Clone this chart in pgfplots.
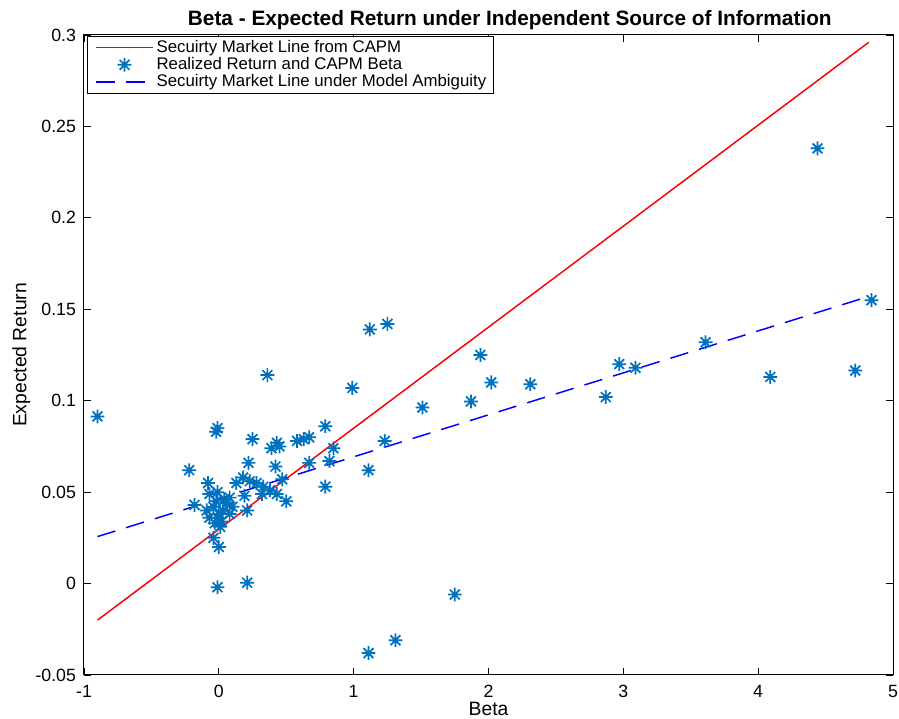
\documentclass[border=0pt]{standalone}
\usepackage{pgfplots}
\pgfplotsset{compat=1.18}
\usepackage{fontspec}
\setmainfont{Liberation Sans}
\definecolor{mblue}{RGB}{0,114,189}
\definecolor{mred}{RGB}{255,0,0}
\pgfdeclareplotmark{mstar}{%
  \pgfpathmoveto{\pgfqpoint{0pt}{\pgfplotmarksize}}\pgfpathlineto{\pgfqpoint{0pt}{-\pgfplotmarksize}}%
  \pgfpathmoveto{\pgfqpoint{\pgfplotmarksize}{0pt}}\pgfpathlineto{\pgfqpoint{-\pgfplotmarksize}{0pt}}%
  \pgfpathmoveto{\pgfqpoint{.707\pgfplotmarksize}{.707\pgfplotmarksize}}\pgfpathlineto{\pgfqpoint{-.707\pgfplotmarksize}{-.707\pgfplotmarksize}}%
  \pgfpathmoveto{\pgfqpoint{-.707\pgfplotmarksize}{.707\pgfplotmarksize}}\pgfpathlineto{\pgfqpoint{.707\pgfplotmarksize}{-.707\pgfplotmarksize}}%
  \pgfusepathqstroke}
\pgfplotsset{
  linelegend/.style={legend image code/.code={\path (0pt,0pt); \draw[#1] (3.5pt,0pt) -- (46.5pt,0pt);}},
  marklegend/.style={legend image code/.code={\path (0pt,0pt); \draw[#1] plot coordinates {(25pt,0pt)};}},
}
\pgfplotstableread{
x y
-0.90 0.0914
4.44 0.238
4.84 0.155
4.72 0.1165
4.09 0.113
3.61 0.132
3.09 0.118
2.97 0.120
2.87 0.102
2.31 0.109
2.02 0.110
1.94 0.125
1.87 0.0996
1.51 0.0963
1.75 -0.006
1.31 -0.031
1.11 -0.038
1.25 0.142
1.12 0.139
0.99 0.107
1.23 0.078
1.11 0.062
0.85 0.074
0.82 0.067
0.79 0.053
0.79 0.086
0.67 0.080
0.63 0.079
0.58 0.078
0.36 0.114
0.67 0.066
0.25 0.079
-0.01 0.085
-0.02 0.083
-0.22 0.062
-0.01 -0.002
0.21 0.0005
0.00 0.020
-0.04 0.025
0.39 0.074
0.43 0.077
0.45 0.075
0.22 0.066
0.42 0.064
-0.08 0.055
0.13 0.055
0.18 0.058
0.23 0.056
0.28 0.055
0.33 0.053
0.43 0.049
0.50 0.045
0.47 0.057
-0.18 0.043
0.21 0.040
-0.07 0.049
-0.01 0.050
0.08 0.047
0.19 0.048
0.32 0.049
0.38 0.051
-0.09 0.040
-0.04 0.042
-0.01 0.036
0.02 0.034
0.03 0.040
0.06 0.044
-0.07 0.036
0.01 0.031
0.10 0.042
0.08 0.038
-0.02 0.045
0.00 0.038
0.04 0.046
-0.03 0.033
}\pts
\begin{document}
\begin{tikzpicture}
\begin{axis}[
  scale only axis,
  width=606.75pt, height=480pt,
  xmin=-1, xmax=5, ymin=-0.05, ymax=0.3,
  xtick={-1,0,1,2,3,4,5},
  xticklabels={-1,0,1,2,3,4,5},
  ytick={-0.05,0,0.05,0.1,0.15,0.2,0.25,0.3},
  yticklabels={-0.05,0,0.05,0.1,0.15,0.2,0.25,0.3},
  tick align=inside,
  major tick length=5pt,
  tick style={black, line width=0.6pt},
  axis line style={black, line width=0.75pt},
  ticklabel style={font=\fontsize{13.3}{15}\selectfont},
  xticklabel style={yshift=-4pt},
  yticklabel style={xshift=-2.5pt},
  xlabel={Beta},
  ylabel={Expected Return},
  label style={font=\fontsize{14.5}{16}\selectfont},
  xlabel style={yshift=3.5pt},
  ylabel style={yshift=-3pt},
  title={\textbf{Beta - Expected Return under Independent Source of Information}},
  title style={font=\fontsize{15.6}{17}\selectfont, xshift=16pt, yshift=-5.5pt},
  legend image code/.code={\path (0pt,0pt); \draw[mred, line width=1.1pt] (3.5pt,0pt) -- (46.5pt,0pt);},
  legend cell align=left,
  legend style={at={(0,1)}, anchor=north west, xshift=2pt, yshift=-1pt,
    font=\fontsize{12.6}{12.6}\selectfont,
    inner xsep=3pt, inner ysep=1pt, row sep=-1.8pt, /tikz/every even column/.append style={column sep=5.5pt}},
]
\addlegendimage{mred}
\addlegendentry{Secuirty Market Line from CAPM}
\addlegendimage{only marks, mark=mstar, mblue, marklegend={draw=mblue, line width=1.3pt, mark=mstar, mark size=5.2pt}}
\addlegendentry{Realized Return and CAPM Beta}
\addlegendimage{blue, mark=none, linelegend={draw=blue, line width=1.1pt, dash pattern=on 14pt off 8.5pt}}
\addlegendentry{Secuirty Market Line under Model Ambiguity}
\addplot[forget plot, mred, line width=1.1pt, mark=none]
  coordinates {(-0.9,-0.0200) (4.82,0.2960)};
\addplot[forget plot, only marks, mark=mstar, mark size=5.2pt, mblue, line width=1.3pt]
  table[x=x,y=y] {\pts};
\addplot[forget plot, blue, line width=1.1pt, mark=none, dash pattern=on 14pt off 8.5pt]
  coordinates {(-0.9,0.0257) (4.82,0.1570)};
\end{axis}
\pgfresetboundingbox
\path[use as bounding box] ([xshift=-63pt,yshift=-33pt]current axis.south west) rectangle ([xshift=4.5pt,yshift=26.25pt]current axis.north east);
\end{tikzpicture}
\end{document}
